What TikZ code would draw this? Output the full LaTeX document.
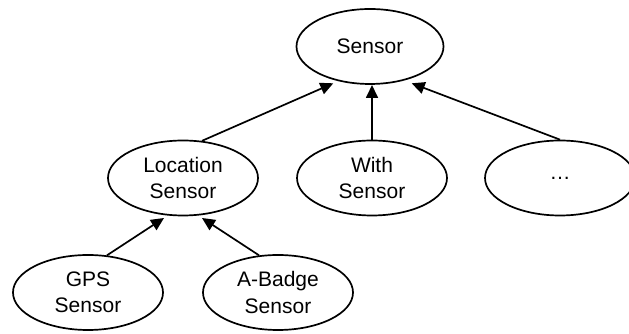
\documentclass[tikz,border=0pt]{standalone}
\usepackage{fontspec}
\setmainfont{Liberation Sans}
\usetikzlibrary{shapes.geometric,arrows.meta}
\begin{document}
\begin{tikzpicture}[x=1pt,y=1pt,
  ell/.style={draw, line width=1.7pt, ellipse, minimum width=150pt, minimum height=75pt, inner sep=0pt, align=center, font=\fontsize{21}{26.5}\selectfont},
  arr/.style={line width=1.7pt, -{Triangle[length=13pt,width=12pt]}}]
\useasboundingbox (0,0) rectangle (629,334);
\node[ell, minimum width=147pt] (sensor) at (370,287.5) {Sensor};
\node[ell] (loc) at (183,156) {Location\\Sensor};
\node[ell] (with) at (372,156) {With\\Sensor};
\node[ell] (dots) at (560,156) {\dots};
\node[ell] (gps) at (88,41.5) {GPS\\Sensor};
\node[ell] (ab) at (278,41.5) {A-Badge\\Sensor};
\coordinate (t1) at (333.3,250.7);
\coordinate (t2) at (372,249);
\coordinate (t3) at (411.7,250.7);
\coordinate (t4) at (164,116);
\coordinate (t5) at (202,116);
\draw[arr] (loc.63) -- (t1);
\draw[arr] (with.north) -- (t2);
\draw[arr] (dots.north) -- (t3);
\draw[arr] (gps.63) -- (t4);
\draw[arr] (ab.117) -- (t5);
\end{tikzpicture}
\end{document}
